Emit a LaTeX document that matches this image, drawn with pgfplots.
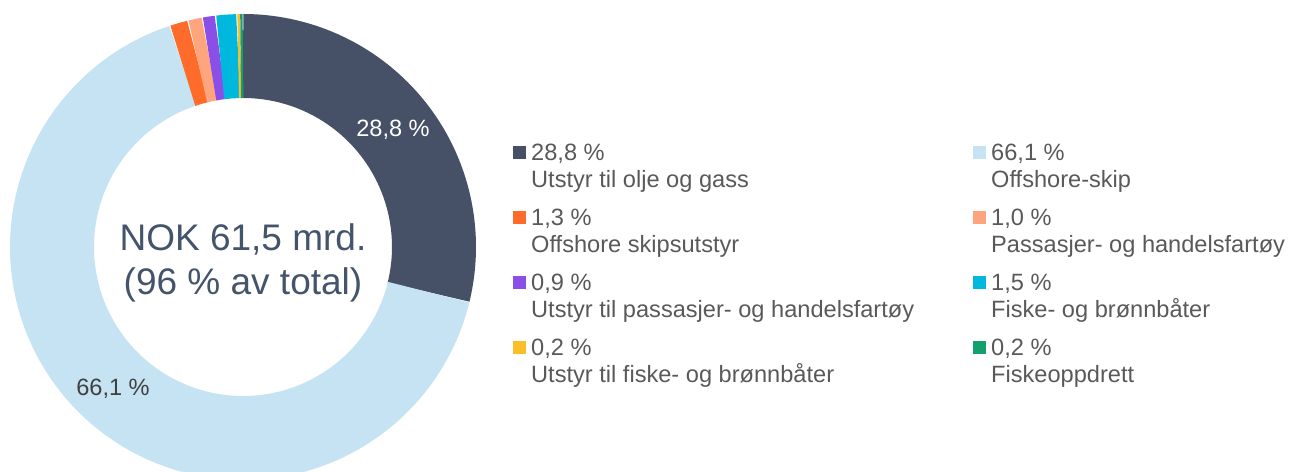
\documentclass[border=0pt]{standalone}
\usepackage{pgfplots}
\pgfplotsset{compat=1.18}
\usepackage{fontspec}
\setmainfont{Liberation Sans}
\definecolor{cDark}{HTML}{465066}
\definecolor{cLight}{HTML}{C5E3F2}
\definecolor{cOrange}{HTML}{FF6B2B}
\definecolor{cSalmon}{HTML}{FFA57E}
\definecolor{cPurple}{HTML}{8A4FE6}
\definecolor{cCyan}{HTML}{00B8DE}
\definecolor{cYellow}{HTML}{F8BF2A}
\definecolor{cGreen}{HTML}{14A06E}
\definecolor{cCenter}{HTML}{44546A}
\definecolor{cLegend}{HTML}{595959}
\definecolor{cLabel}{HTML}{404040}
\newcommand{\lf}{\fontsize{23.6bp}{28bp}\selectfont}
% slice: start percent, end percent, colour, samples  (ring centre 243,225; mid radius 191; ring width 84)
\newcommand{\slice}[4]{\addplot[draw=#3, line width=84bp, line cap=butt, line join=miter,
  variable=\t, domain=#1:#2, samples=#4, no markers]
  ({243+191*cos(90-3.6*t)},{225+191*sin(90-3.6*t)});}
\newcommand{\leg}[5]{% x of marker, baseline y, colour, line1, line2
  \fill[#3] (axis cs:#1,#2+1.5) rectangle (axis cs:#1+13,#2+14.5);
  \node[anchor=base west, inner sep=0, text=cLegend, font=\lf] at (axis cs:#1+18,#2) {#4};
  \node[anchor=base west, inner sep=0, text=cLegend, font=\lf] at (axis cs:#1+18,#2-27) {#5};}
\begin{document}
\begin{tikzpicture}
\begin{axis}[
  at={(0,0)}, anchor=south west,
  scale only axis, width=1292bp, height=472bp,
  xmin=0, xmax=1292, ymin=0, ymax=472,
  hide axis, clip=true, clip bounding box=upper bound,
]
% shares (percent): 28.8, 66.1, 1.3, 1.0, 0.9, 1.5, 0.2, 0.2 -- clockwise from 12 o'clock
\slice{0}{28.8}{cDark}{100}
\slice{28.8}{94.9}{cLight}{200}
\slice{94.9}{96.2}{cOrange}{3}
\slice{96.2}{97.2}{cSalmon}{3}
\slice{97.2}{98.1}{cPurple}{3}
\slice{98.1}{99.6}{cCyan}{3}
\slice{99.6}{99.8}{cYellow}{2}
\slice{99.8}{100}{cGreen}{2}
% data labels
\node[anchor=base, inner sep=0, text=white, font=\lf] at (axis cs:393,335) {28,8 \%};
\node[anchor=base, inner sep=0, text=cLabel, font=\lf] at (axis cs:113,76) {66,1 \%};
% centre text
\node[anchor=base, inner sep=0, text=cCenter, font=\fontsize{37bp}{44bp}\selectfont] at (axis cs:243,221) {NOK 61,5 mrd.};
\node[anchor=base, inner sep=0, text=cCenter, font=\fontsize{37bp}{44bp}\selectfont] at (axis cs:243,177) {(96 \% av total)};
% legend
\leg{513}{311}{cDark}{28,8 \%}{Utstyr til olje og gass}
\leg{513}{246}{cOrange}{1,3 \%}{Offshore skipsutstyr}
\leg{513}{181}{cPurple}{0,9 \%}{Utstyr til passasjer- og handelsfartøy}
\leg{513}{116}{cYellow}{0,2 \%}{Utstyr til fiske- og brønnbåter}
\leg{973}{311}{cLight}{66,1 \%}{Offshore-skip}
\leg{973}{246}{cSalmon}{1,0 \%}{Passasjer- og handelsfartøy}
\leg{973}{181}{cCyan}{1,5 \%}{Fiske- og brønnbåter}
\leg{973}{116}{cGreen}{0,2 \%}{Fiskeoppdrett}
\end{axis}
\pgfresetboundingbox
\useasboundingbox (0,0) rectangle (1292bp,472bp);
\end{tikzpicture}
\end{document}
